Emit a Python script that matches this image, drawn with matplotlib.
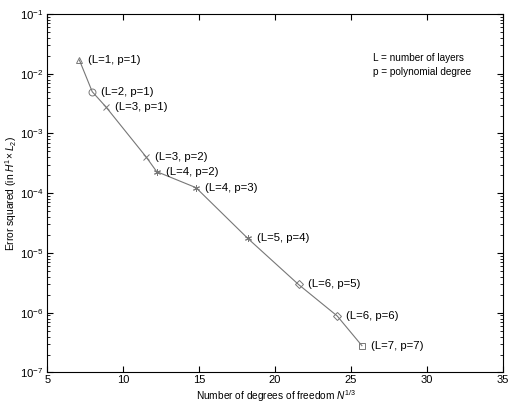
import numpy as np
import matplotlib.pyplot as plt

plt.rcParams['font.family'] = ['Liberation Sans', 'DejaVu Sans']
plt.rcParams['mathtext.fontset'] = 'custom'
plt.rcParams['mathtext.rm'] = 'Liberation Sans'
plt.rcParams['mathtext.it'] = 'Liberation Sans:italic'

# data
dof = [7.10, 7.95, 8.84, 11.49, 12.20, 14.79, 18.20, 21.55, 24.10, 25.73]
err = [1.70e-2, 5.0e-3, 2.81e-3, 4.09e-4, 2.30e-4, 1.24e-4, 1.76e-5, 2.97e-6, 8.83e-7, 2.81e-7]
layers = [1, 2, 3, 3, 4, 4, 5, 6, 6, 7]
degree = [1, 1, 1, 2, 2, 3, 4, 5, 6, 7]
markers = ['^', 'o', 'x', 'x', (6, 2, 0), (6, 2, 0), (6, 2, 0), 'D', 'D', 's']

grey = '#777777'

fig = plt.figure(figsize=(5.09, 4.01), dpi=100)
ax = fig.add_axes([0.0933, 0.0711, 0.894, 0.894])

ax.semilogy(dof, err, '-', color=grey, lw=0.8)
for x, y, m, L, p in zip(dof, err, markers, layers, degree):
    ms = 4.5 if m == 'D' else 5
    ax.plot(x, y, marker=m, ms=ms, mfc='none', mec=grey, mew=0.7, ls='none')
    ax.annotate(f"(L={L}, p={p})", (x, y), xytext=(6.5, 0), textcoords='offset points',
                fontsize=8.2, va='center', ha='left')

ax.text(0.715, 0.877, "L = number of layers", transform=ax.transAxes, fontsize=7.2, va='center')
ax.text(0.715, 0.838, "p = polynomial degree", transform=ax.transAxes, fontsize=7.2, va='center')

ax.set_xlim(5, 35)
ax.set_ylim(1e-7, 1e-1)
ax.set_xticks([5, 10, 15, 20, 25, 30, 35])
ax.tick_params(which='both', direction='in', top=True, right=True, labelsize=8.2)
ax.tick_params(axis='x', pad=2, labelsize=8)
ax.tick_params(axis='y', pad=3)
ax.tick_params(which='major', length=4)
ax.tick_params(which='minor', length=2)
ax.set_xlabel(r"Number of degrees of freedom $\mathit{N}^{1/3}$", fontsize=7.3)
ax.set_ylabel(r"Error squared (in $\mathit{H}^1\!\times \mathit{L}_2$)", fontsize=7.4)
ax.xaxis.set_label_coords(0.503, -0.043)
ax.yaxis.set_label_coords(-0.063, 0.498)

fig.savefig('out.png', dpi=100)
